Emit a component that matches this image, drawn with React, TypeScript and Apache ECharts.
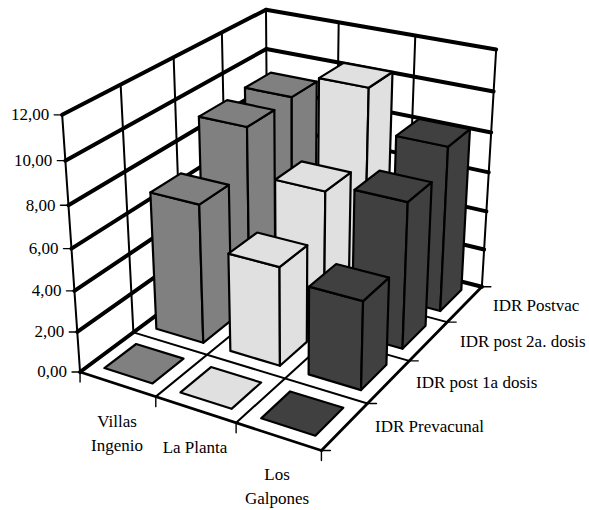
import React, { useEffect, useRef } from "react";
import * as echarts from "echarts";

const categories = ["Villas\nIngenio", "La Planta", "Los\nGalpones"];
const rowNames = ["IDR Prevacunal", "IDR post 1a dosis", "IDR post 2a. dosis", "IDR Postvac"];
const categoryColors = ["#808080", "#e0e0e0", "#404040"];
const tickLabels = ["0,00", "2,00", "4,00", "6,00", "8,00", "10,00", "12,00"];
const tickValues = [0, 2, 4, 6, 8, 10, 12];

const prevacunal = [0, 0, 0];
const post1a = [6.85, 4.85, 4.3];
const post2a = [9.05, 6.8, 7.2];
const postvac = [9.15, 10.35, 8.3];
const rows = [prevacunal, post1a, post2a, postvac];

// Camera calibration: world point (category, row, value) -> page position.
const anchors: number[][] = [
  [0, 0, 0, 80, 372], [0, 0, 2, 77, 332], [0, 0, 4, 74, 291], [0, 0, 6, 71, 248],
  [0, 0, 8, 68, 204], [0, 0, 10, 65, 161], [0, 0, 12, 62, 114],
  [1, 0, 0, 157, 396], [2, 0, 0, 237, 423], [3, 0, 0, 321, 450],
  [3, 1, 0, 367, 404], [3, 2, 0, 410, 362], [3, 3, 0, 448, 322], [3, 4, 0, 482, 288],
  [3, 4, 2, 483, 249], [3, 4, 4, 486, 210], [3, 4, 6, 488, 172], [3, 4, 8, 491, 133],
  [3, 4, 10, 493, 92], [3, 4, 12, 497, 48],
  [0, 1, 12, 121, 86], [0, 2, 12, 173, 59], [0, 3, 12, 223, 33], [0, 4, 12, 266, 9],
  [1, 4, 12, 339, 23], [2, 4, 12, 416, 36], [0, 4, 10, 266, 48],
];

function solveCamera(pts: number[][]): number[] {
  const n = 11;
  const m = Array.from({ length: n }, () => new Array(n + 1).fill(0));
  const add = (row: number[], rhs: number) => {
    for (let i = 0; i < n; i++) {
      for (let j = 0; j < n; j++) m[i][j] += row[i] * row[j];
      m[i][n] += row[i] * rhs;
    }
  };
  for (const [X, Y, Z, x, y] of pts) {
    add([X, Y, Z, 1, 0, 0, 0, 0, -x * X, -x * Y, -x * Z], x);
    add([0, 0, 0, 0, X, Y, Z, 1, -y * X, -y * Y, -y * Z], y);
  }
  for (let c = 0; c < n; c++) {
    let p = c;
    for (let r = c + 1; r < n; r++) if (Math.abs(m[r][c]) > Math.abs(m[p][c])) p = r;
    [m[c], m[p]] = [m[p], m[c]];
    for (let r = 0; r < n; r++) {
      if (r === c) continue;
      const f = m[r][c] / m[c][c];
      for (let k = c; k <= n; k++) m[r][k] -= f * m[c][k];
    }
  }
  return m.map((r, i) => r[n] / r[i]);
}

const cam = solveCamera(anchors);
const project = (X: number, Y: number, Z: number): number[] => {
  const w = cam[8] * X + cam[9] * Y + cam[10] * Z + 1;
  return [
    (cam[0] * X + cam[1] * Y + cam[2] * Z + cam[3]) / w,
    (cam[4] * X + cam[5] * Y + cam[6] * Z + cam[7]) / w,
  ];
};

const nCat = categories.length;
const nRow = rowNames.length;
const maxZ = 12;
const insetU = 0.18;
const insetV = 0.2;

const seg = (a: number[], b: number[], lineWidth: number) => ({
  type: "line",
  shape: { x1: a[0], y1: a[1], x2: b[0], y2: b[1] },
  style: { stroke: "#000", lineWidth, lineCap: "round" },
});

function renderFrame() {
  const children: any[] = [];
  // value gridlines along the left and back walls
  for (const z of tickValues) {
    children.push(seg(project(0, 0, z), project(0, nRow, z), 4));
    children.push(seg(project(0, nRow, z), project(nCat, nRow, z), 4));
  }
  // verticals on the two walls
  for (let v = 0; v <= nRow; v++) children.push(seg(project(0, v, 0), project(0, v, maxZ), 2));
  for (let u = 1; u <= nCat; u++) children.push(seg(project(u, nRow, 0), project(u, nRow, maxZ), 2));
  // floor grid
  for (let u = 1; u <= nCat; u++) children.push(seg(project(u, 0, 0), project(u, nRow, 0), u === nCat ? 2.8 : 2));
  for (let v = 0; v < nRow; v++) children.push(seg(project(0, v, 0), project(nCat, v, 0), v === 0 ? 2.8 : 2));
  // axis ticks
  for (const z of tickValues) {
    const p = project(0, 0, z);
    children.push(seg(p, [p[0] - 8, p[1]], 1.4));
  }
  for (let u = 0; u <= nCat; u++) {
    const p = project(u, 0, 0);
    children.push(seg(p, [p[0], p[1] + 10], 1.4));
  }
  for (let v = 0; v <= nRow; v++) {
    const p = project(nCat, v, 0);
    children.push(seg(p, [p[0] + 9, p[1]], 1.4));
  }
  return { type: "group", children };
}

const face = (pts: number[][], fill: string) => ({
  type: "polygon",
  shape: { points: pts },
  style: { fill, stroke: "#000", lineWidth: 2.2, lineJoin: "round" },
});

const renderBar = (rowIndex: number) => (_: any, api: any) => {
  const u = api.value(0) as number;
  const z = api.value(1) as number;
  const fill = categoryColors[u];
  const u0 = u + insetU, u1 = u + 1 - insetU;
  const v0 = rowIndex + insetV, v1 = rowIndex + 1 - insetV;
  const p = project;
  if (z <= 0) {
    return {
      type: "group",
      children: [face([p(u0, v0, 0), p(u1, v0, 0), p(u1, v1, 0), p(u0, v1, 0)], fill)],
    };
  }
  return {
    type: "group",
    children: [
      face([p(u0, v0, 0), p(u1, v0, 0), p(u1, v0, z), p(u0, v0, z)], fill),
      face([p(u1, v0, 0), p(u1, v1, 0), p(u1, v1, z), p(u1, v0, z)], fill),
      face([p(u0, v0, z), p(u1, v0, z), p(u1, v1, z), p(u0, v1, z)], fill),
    ],
  };
};

const fontFamily = '"Liberation Serif", serif';
const label = (text: string, x: number, y: number, align: string) => ({
  type: "text",
  x,
  y,
  style: { text, fill: "#000", font: `17px ${fontFamily}`, align, verticalAlign: "middle", lineHeight: 24 },
});

export default function App() {
  const ref = useRef<HTMLDivElement>(null);
  useEffect(() => {
    const chart = echarts.init(ref.current!, undefined, { renderer: "svg" });
    const barSeries = rows
      .map((values, j) => ({
        type: "custom",
        name: rowNames[j],
        coordinateSystem: "none",
        silent: true,
        z: 10 + (nRow - j),
        renderItem: renderBar(j),
        data: values.map((v, i) => [i, v]),
      }))
      .reverse();
    chart.setOption({
      animation: false,
      backgroundColor: "#fff",
      series: [
        {
          type: "custom",
          name: "frame",
          coordinateSystem: "none",
          silent: true,
          z: 1,
          renderItem: renderFrame,
          data: [[0]],
        },
        ...barSeries,
      ],
      graphic: [
        ...tickValues.map((z, i) => {
          const p = project(0, 0, z);
          return label(tickLabels[i], p[0] - 13, p[1], "right");
        }),
        label(categories[0], 117, 433, "center"),
        label(categories[1], 195, 447, "center"),
        label(categories[2], 277, 486, "center"),
        label(rowNames[0], 375, 426, "left"),
        label(rowNames[1], 416, 382, "left"),
        label(rowNames[2], 460, 341, "left"),
        label(rowNames[3], 493, 305, "left"),
      ],
    });
    return () => chart.dispose();
  }, []);
  return <div ref={ref} style={{ position: "absolute", left: 0, top: 0, width: 589, height: 510 }} />;
}
